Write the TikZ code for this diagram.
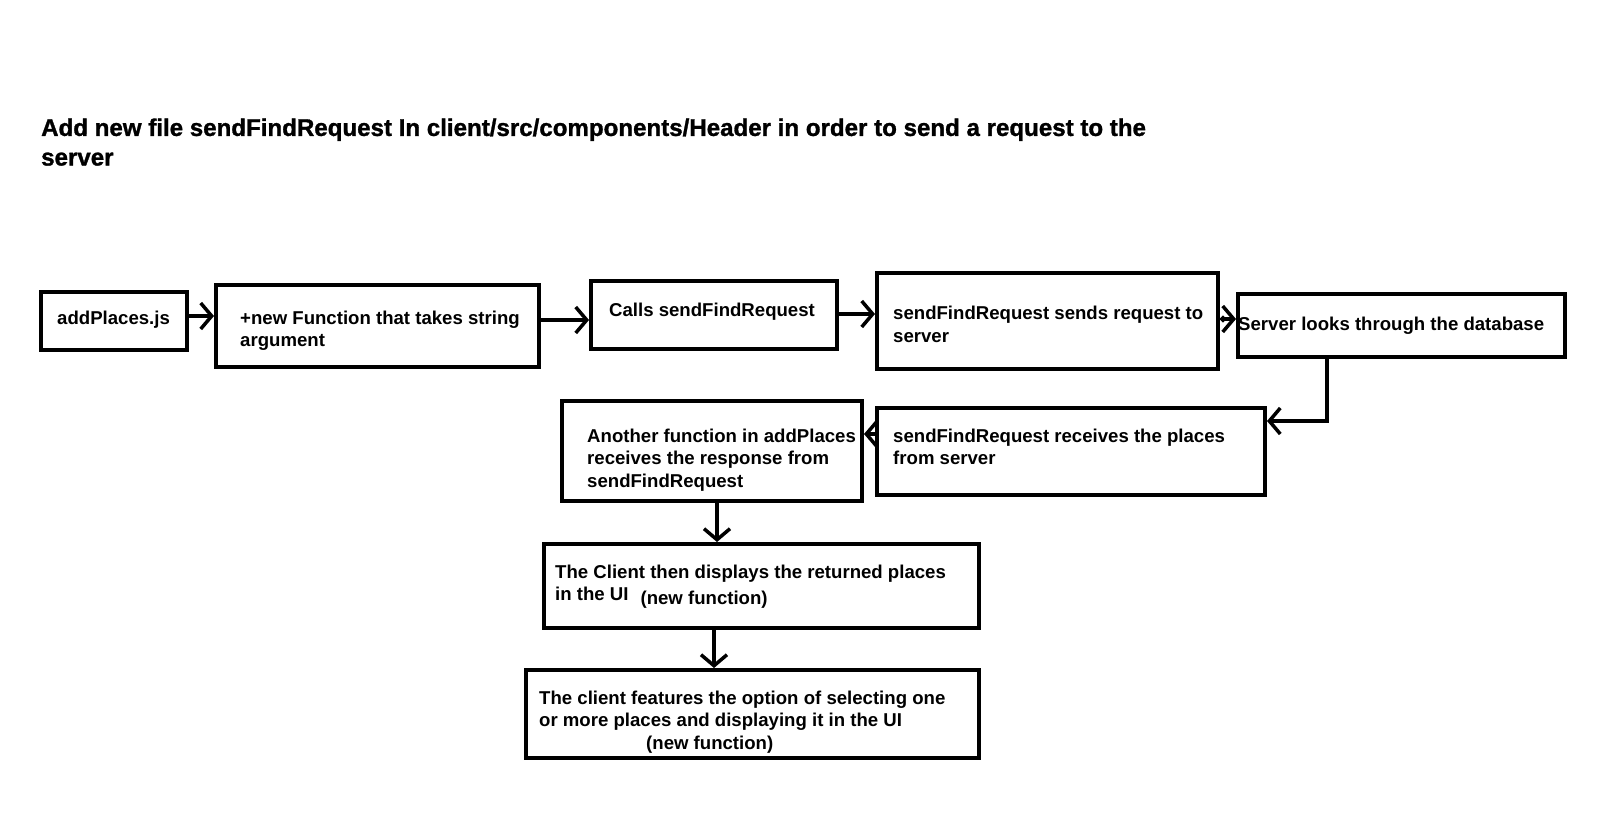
\documentclass[tikz,border=0pt]{standalone}
\usepackage{fontspec}
\setmainfont{Liberation Sans}
\newfontfamily\titlefont[FakeBold=1.2]{Liberation Sans}
\usetikzlibrary{arrows.meta,calc}
\begin{document}
\begin{tikzpicture}[x=1pt,y=-1pt,
  box/.style={draw, line width=4pt, inner sep=0pt},
  txt/.style={anchor=north west, inner sep=0pt, align=left, font=\bfseries\fontsize{18.6}{22.5}\selectfont},
  ttl/.style={anchor=north west, inner sep=0pt, align=left, font=\titlefont\bfseries\fontsize{24.1}{29.6}\selectfont},
  arr/.style={line width=4pt, -{Straight Barb[length=11pt,width=26pt,line width=3.5pt]}}]
\useasboundingbox (0,0) rectangle (1600,814);
\fill[white] (0,0) rectangle (1600,814);

\node[ttl] (title) at (41,115) {\strut Add new file sendFindRequest In client/src/components/Header in order to send a request to the\\ server};

\node[box, minimum width=146pt, minimum height=58pt] (b1) at (114,321) {};
\node[box, minimum width=323pt, minimum height=82pt] (b2) at (377.5,326) {};
\node[box, minimum width=246pt, minimum height=68pt] (b3) at (714,315) {};
\node[box, minimum width=341pt, minimum height=96pt] (b4) at (1047.5,321) {};
\node[box, minimum width=327pt, minimum height=63pt] (b5) at (1401.5,325.5) {};
\node[box, minimum width=388pt, minimum height=87pt] (b6) at (1071,451.5) {};
\node[box, minimum width=300pt, minimum height=100pt] (b7) at (712,451) {};
\node[box, minimum width=435pt, minimum height=84pt] (b8) at (761.5,586) {};
\node[box, minimum width=453pt, minimum height=88pt] (b9) at (752.5,714) {};

\node[txt] (t1) at ($(b1.north west)+(18,18.5)$) {\strut addPlaces.js};
\node[txt] (t2) at ($(b2.north west)+(26,25.5)$) {\strut +new Function that takes string\\ argument};
\node[txt] (t3) at ($(b3.north west)+(20,21.2)$) {\strut Calls sendFindRequest};
\node[txt] (t4) at ($(b4.north west)+(18,33)$) {\strut sendFindRequest sends request to\\ server};
\node[txt] (t5) at ($(b5.north west)+(2,22.3)$) {\strut Server looks through the database};
\node[txt] (t6) at ($(b6.north west)+(18,20.3)$) {\strut sendFindRequest receives the places\\ from server};
\node[txt] (t7) at ($(b7.north west)+(27,27.3)$) {\strut Another function in addPlaces\\ receives the response from\\ sendFindRequest};
\node[txt] (t8) at ($(b8.north west)+(13,20.5)$) {\strut The Client then displays the returned places\\ in the UI\hspace{12pt}\raisebox{-4pt}{(new function)}};
\node[txt] (t9) at ($(b9.north west)+(15,20.3)$) {\strut The client features the option of selecting one\\ or more places and displaying it in the UI\\ \hspace*{107pt}(new function)};

\coordinate (y12) at (0,316);
\coordinate (y23) at (0,320);
\coordinate (y34) at (0,314);
\coordinate (y45) at (0,319);
\coordinate (k1) at (1327,421);
\coordinate (y67) at (0,434);
\coordinate (x78) at (717,0);
\coordinate (x89) at (714,0);

\draw[arr] (b1.east |- y12) -- (b2.west |- y12);
\draw[arr] (b2.east |- y23) -- (b3.west |- y23);
\draw[arr] (b3.east |- y34) -- (b4.west |- y34);
\draw[line width=4pt, {Circle[length=6pt]}-{Straight Barb[length=11pt,width=26pt,line width=3.5pt]}] (b4.east |- y45) -- (b5.west |- y45);
\draw[arr] (b5.south -| k1) -- (k1) -- (b6.east |- k1);
\draw[arr] (b6.west |- y67) -- (b7.east |- y67);
\draw[arr] (b7.south -| x78) -- (b8.north -| x78);
\draw[arr] (b8.south -| x89) -- (b9.north -| x89);
\end{tikzpicture}
\end{document}
